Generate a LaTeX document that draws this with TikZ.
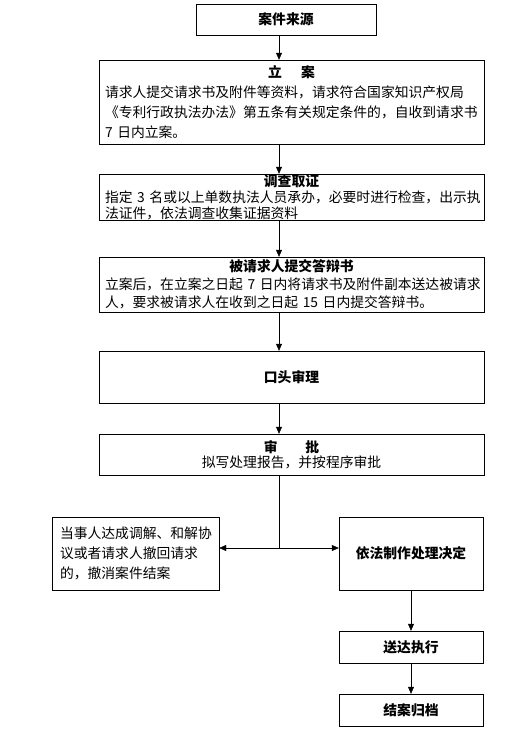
\documentclass[tikz,border=0pt]{standalone}
\usepackage{fontspec}
\setmainfont{Noto Sans CJK SC}
\usetikzlibrary{positioning, arrows.meta}
\tikzset{
	x=1pt, y=-1pt, % one unit is one pixel of the scan
	>={Triangle[length=7pt,width=6pt]}, % small filled heads
	line width=0.9pt,
	box/.style={draw, inner xsep=6pt, inner ysep=0pt, align=left}, % plain framed step
	head/.style={box, align=center, font=\fontsize{13.8}{17}\selectfont\bfseries}, % one bold title only
}

\begin{document}
\begin{tikzpicture}
	\useasboundingbox (0,0) rectangle (531,744);
	% main column
	\node[head, minimum width=180pt, minimum height=31pt] (src) at (286,19.5) {案件来源};
	\node[box, text width=373pt, minimum height=84pt, font=\fontsize{13.8}{20}\selectfont] (lian) at (291.5,102) {%
		\centerline{\bfseries 立\hspace{1.4em}案}
		请求人提交请求书及附件等资料，请求符合国家知识产权局\\
		《专利行政执法办法》第五条有关规定条件的，自收到请求书\\
		7~日内立案。};
	\node[box, text width=373pt, minimum height=46pt, font=\fontsize{13.8}{16}\selectfont] (diaocha) at (291.5,197) {%
		\centerline{\bfseries 调查取证}
		指定~3~名或以上单数执法人员承办，必要时进行检查，出示执\\
		法证件，依法调查收集证据资料};
	\node[box, text width=373pt, minimum height=55pt, font=\fontsize{13.8}{18}\selectfont] (dabian) at (291.5,284.5) {%
		\centerline{\bfseries 被请求人提交答辩书}
		立案后，在立案之日起~7~日内将请求书及附件副本送达被请求\\
		人，要求被请求人在收到之日起~15~日内提交答辩书。};
	\node[head, minimum width=385pt, minimum height=52pt] (koutou) at (291.5,377) {口头审理};
	\node[box, align=center, minimum width=385pt, minimum height=41pt, font=\fontsize{13.8}{15}\selectfont] (shenpi) at (291.5,454.5) {%
		{\bfseries 审\hspace{2em}批}\\
		拟写处理报告，并按程序审批};
	% branches
	\node[box, inner xsep=8pt, text width=151pt, minimum height=73pt, font=\fontsize{13.8}{20}\selectfont] (chexiao) at (135.5,553.5) {%
		当事人达成调解、和解协\\
		议或者请求人撤回请求\\
		的，撤消案件结案};
	\node[head, minimum width=144pt, minimum height=73pt] (jueding) at (411,553.5) {依法制作处理决定};
	\node[head, minimum width=144pt, minimum height=32pt] (songda) at (411,647) {送达执行};
	\node[head, minimum width=144pt, minimum height=32pt] (guidang) at (411,710) {结案归档};

	\coordinate (spine) at (279,0);
	\coordinate (fork) at (279,548);
	\foreach \a/\b in {src/lian, lian/diaocha, diaocha/dabian, dabian/koutou, koutou/shenpi}
		\draw[->] (\a.south -| spine) -- (\b.north -| spine);
	\draw (shenpi.south -| spine) -- (fork);
	\draw[->] (fork) -- (fork -| chexiao.east);
	\draw[->] (fork) -- (fork -| jueding.west);
	\draw[->] (jueding) -- (songda);
	\draw[->] (songda) -- (guidang);
\end{tikzpicture}
\end{document}
